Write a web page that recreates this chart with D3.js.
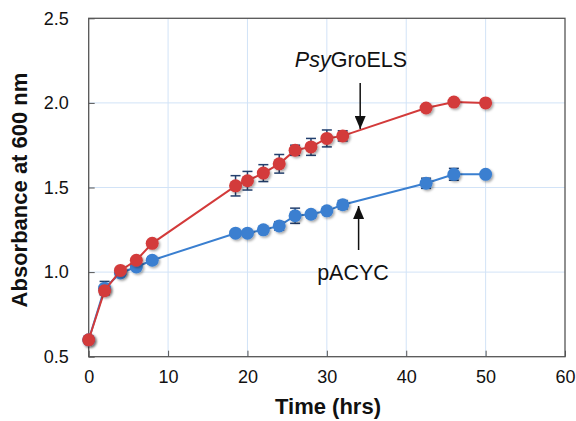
<!DOCTYPE html>
<html><head><meta charset="utf-8">
<script src="https://cdn.jsdelivr.net/npm/d3@7"></script>
<style>body{margin:0;background:#fff}svg{display:block;font-family:"Liberation Sans",Arial,sans-serif}</style>
</head><body><svg id="c" width="576" height="421"></svg>
<script>
const times = [0,2,4,6,8,18.5,20,22,24,26,28,30,32,42.5,46,50];
const psyGroELS = [0.60,0.89,1.01,1.07,1.17,1.51,1.54,1.585,1.64,1.72,1.74,1.79,1.805,1.97,2.005,2.00];
const psyErr = [0,0.02,0.01,0.01,0.01,0.06,0.055,0.05,0.055,0.03,0.05,0.05,0.03,0.01,0.01,0];
const pACYC = [0.60,0.905,0.995,1.03,1.07,1.23,1.23,1.25,1.273,1.333,1.342,1.362,1.398,1.525,1.578,1.578];
const pacycErr = [0,0.04,0.01,0.015,0.02,0.01,0.01,0.015,0.025,0.045,0.02,0.01,0.025,0.03,0.035,0];
const xTicks = [0,10,20,30,40,50,60];
const yTicks = [0.5,1.0,1.5,2.0,2.5];

const svg = d3.select("#c");
const L=88.7,R=565,T=18.3,B=356.7;
const x = d3.scaleLinear().domain([0,60]).range([L,R]);
const y = d3.scaleLinear().domain([0.5,2.5]).range([B,T]);

const defs = svg.append("defs");
const f = defs.append("filter").attr("id","sh").attr("x","-50%").attr("y","-50%").attr("width","200%").attr("height","200%");
f.append("feDropShadow").attr("dx",1.5).attr("dy",1.5).attr("stdDeviation",1.2).attr("flood-color","#000").attr("flood-opacity",0.35);

// grid
svg.append("g").selectAll("line").data(xTicks.slice(1,-1)).join("line")
  .attr("x1",d=>x(d)).attr("x2",d=>x(d)).attr("y1",T).attr("y2",B)
  .attr("stroke","#d2e3f7").attr("stroke-width",1);
svg.append("g").selectAll("line").data(yTicks.slice(1,-1)).join("line")
  .attr("y1",d=>y(d)).attr("y2",d=>y(d)).attr("x1",L).attr("x2",R)
  .attr("stroke","#d2e3f7").attr("stroke-width",1);

// axes
const xa = svg.append("g").attr("transform",`translate(0,${B})`)
  .call(d3.axisBottom(x).tickValues(xTicks).tickSize(-6).tickPadding(14).tickFormat(d3.format("d")));
const ya = svg.append("g").attr("transform",`translate(${L},0)`)
  .call(d3.axisLeft(y).tickValues(yTicks).tickSize(-6).tickPadding(20).tickFormat(d3.format(".1f")));
[xa,ya].forEach(a=>{a.select(".domain").remove();a.selectAll("line").attr("stroke","#555");
  a.selectAll("text").attr("font-size",18).attr("fill","#111").attr("font-family","Liberation Sans, Arial");});
xa.selectAll("text").attr("dy","0.71em");
// frame
svg.append("rect").attr("x",L).attr("y",T).attr("width",R-L).attr("height",B-T)
  .attr("fill","none").attr("stroke","#555").attr("stroke-width",1.3);

function series(vals, errs, col){
  const g = svg.append("g");
  const pts = times.map((t,i)=>({t,v:vals[i],e:errs[i]}));
  g.append("path").datum(pts).attr("fill","none").attr("stroke",col).attr("stroke-width",2)
    .attr("d",d3.line().x(d=>x(d.t)).y(d=>y(d.v)));
  const eb = g.append("g").attr("stroke","#23406e").attr("stroke-width",1.5);
  pts.filter(d=>d.e>0).forEach(d=>{
    eb.append("line").attr("x1",x(d.t)).attr("x2",x(d.t)).attr("y1",y(d.v-d.e)).attr("y2",y(d.v+d.e));
    [d.v-d.e,d.v+d.e].forEach(v=>eb.append("line").attr("x1",x(d.t)-5).attr("x2",x(d.t)+5).attr("y1",y(v)).attr("y2",y(v)));
  });
  g.append("g").selectAll("circle").data(pts).join("circle")
    .attr("cx",d=>x(d.t)).attr("cy",d=>y(d.v)).attr("r",6.5).attr("fill",col).attr("filter","url(#sh)");
}
series(pACYC, pacycErr, "#3a7fd0");
series(psyGroELS, psyErr, "#d33a3a");

// annotations
const ann = svg.append("g");
defs.append("marker").attr("id","ah").attr("viewBox","0 0 10 10").attr("refX",10).attr("refY",5)
  .attr("markerUnits","userSpaceOnUse").attr("preserveAspectRatio","none")
  .attr("markerWidth",13).attr("markerHeight",11).attr("orient","auto-start-reverse")
  .append("path").attr("d","M0,0L10,5L0,10z").attr("fill","#111");
ann.append("line").attr("x1",x(34.2)).attr("x2",x(34.2)).attr("y1",83).attr("y2",129)
  .attr("stroke","#111").attr("stroke-width",1.5).attr("marker-end","url(#ah)");
ann.append("line").attr("x1",x(34)).attr("x2",x(34)).attr("y1",250).attr("y2",206)
  .attr("stroke","#111").attr("stroke-width",1.5).attr("marker-end","url(#ah)");
const t1 = ann.append("text").attr("x",351).attr("y",67).attr("text-anchor","middle").attr("font-size",21.5).attr("fill","#111");
t1.append("tspan").attr("font-style","italic").text("Psy");
t1.append("tspan").text("GroELS");
ann.append("text").attr("x",353).attr("y",280).attr("text-anchor","middle").attr("font-size",21.5).attr("fill","#111").text("pACYC");

// axis titles
svg.append("text").attr("x",328).attr("y",414).attr("text-anchor","middle").attr("font-size",22)
  .attr("font-weight","bold").attr("fill","#111").text("Time (hrs)");
svg.append("text").attr("transform","translate(27,190) rotate(-90)").attr("text-anchor","middle")
  .attr("font-size",22).attr("font-weight","bold").attr("fill","#111").text("Absorbance at 600 nm");
</script></body></html>
